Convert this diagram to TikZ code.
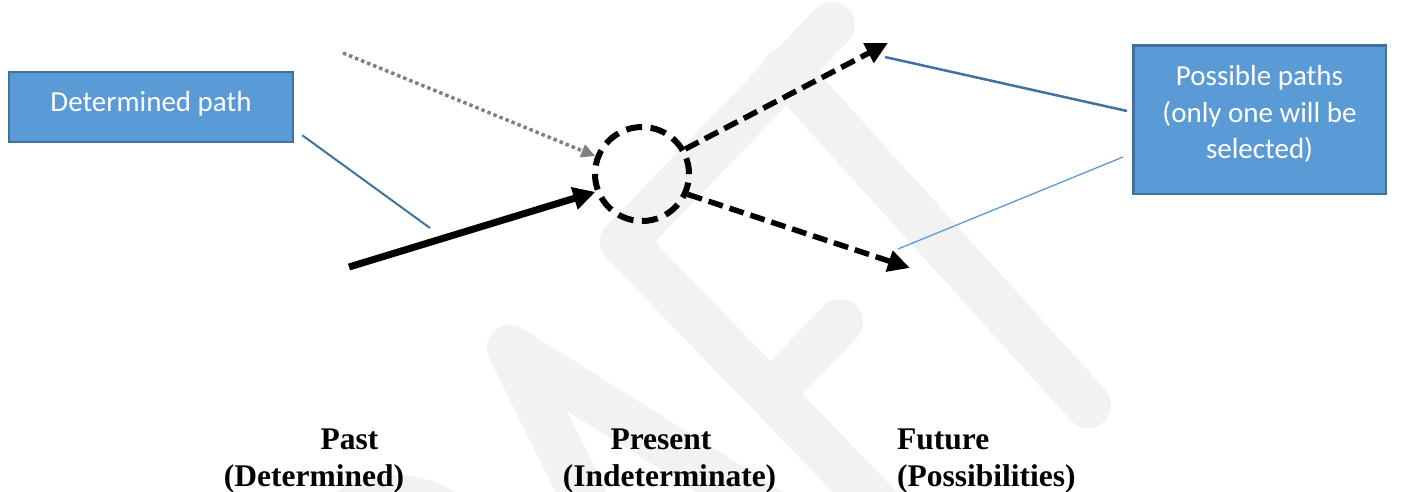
\documentclass[tikz,border=0pt]{standalone}
\usepackage{fontspec}
\setmainfont{Liberation Serif}
\newfontfamily\calfont{Carlito}
\usetikzlibrary{arrows.meta,calc}
\definecolor{boxfill}{HTML}{5B9BD5}
\definecolor{boxline}{HTML}{41719C}
\definecolor{wm}{HTML}{F2F2F2}
\definecolor{dotgray}{HTML}{808080}
\begin{document}
\begin{tikzpicture}[x=1pt,y=-1pt,
  box/.style={draw=boxline, line width=2.5pt, fill=boxfill, inner sep=0pt},
  boxtext/.style={text=white, font=\calfont\fontsize{29}{36.5}\selectfont, align=center, inner sep=0pt},
  wmark/.style={draw=wm, line width=46pt, line cap=round, line join=round},
  fut/.style={-{Triangle[length=22pt,width=21pt]}, line width=5.5pt, dash pattern=on 15pt off 7pt},
  past/.style={-{Triangle[length=22pt,width=22pt]}, line width=7pt},
  maybe/.style={-{Triangle[length=14pt,width=13pt]}, draw=dotgray, line width=3.5pt, dash pattern=on 3.5pt off 3pt},
  ptr/.style={draw=boxline, line width=2pt},
  lbl/.style={font=\bfseries\fontsize{31.5}{36}\selectfont, inner sep=0pt}]
\useasboundingbox (0,0) rectangle (1408,491);
% watermark
\begin{scope}
\clip (0,0) rectangle (1408,491);
\draw[wmark] (832,25) -- (623,242) -- (892,520);
\draw[wmark] (785,70) -- (1088,405);
\draw[wmark] (840,322) -- (775,390);
\draw[wmark] (600,530) -- (510,348) -- (785,520);
\fill[wm] (395,535) ellipse (85 and 60);
\end{scope}
% boxes
\node[box, minimum width=284pt, minimum height=70pt,
  label={[boxtext, yshift=3pt]center:Determined path}] (b1) at (151,107) {};
\node[box, minimum width=252.5pt, minimum height=148.5pt,
  label={[boxtext, yshift=5.5pt]center:{Possible paths\\(only one will be\\selected)}}] (b2) at (1259.5,119.5) {};
% present circle
\node[circle, draw, line width=6pt, dash pattern=on 16pt off 8.6pt, minimum size=94pt, inner sep=0pt] (c) at (642,174) {};
% coordinates
\coordinate (pastS) at (349,267);
\coordinate (maybeS) at (343,53);
\coordinate (up) at (888,43);
\coordinate (dn) at (910,268);
\coordinate (p1) at (430,228);
\coordinate (q1) at (885,57);
\coordinate (q2) at (898,249);
% arrows
\draw[past] (pastS) -- (c.201);
\draw[maybe] (maybeS) -- (c.159);
\draw[fut] (c.30) -- (up);
\draw[fut] (c.-24) -- (dn);
% pointers
\draw[ptr] ($(b1.south east)+(8,-8)$) -- (p1);
\draw[draw=boxline, line width=2.5pt] ($(b2.north west)+(-5,67)$) -- (q1);
\draw[draw=boxfill, line width=1.3pt] ($(b2.north west)+(-9,113)$) -- (q2);
% labels
\node[lbl, anchor=base] (pa) at (349.5,449) {Past};
\node[lbl, anchor=base] (pb) at (314,486) {(Determined)};
\node[lbl, anchor=base] (na) at (661,449) {Present};
\node[lbl, anchor=base] (nb) at (669.5,486) {(Indeterminate)};
\node[lbl, anchor=base west] (fa) at (897,449) {Future};
\node[lbl, anchor=base west] (fb) at (897,486) {(Possibilities)};
\end{tikzpicture}
\end{document}
